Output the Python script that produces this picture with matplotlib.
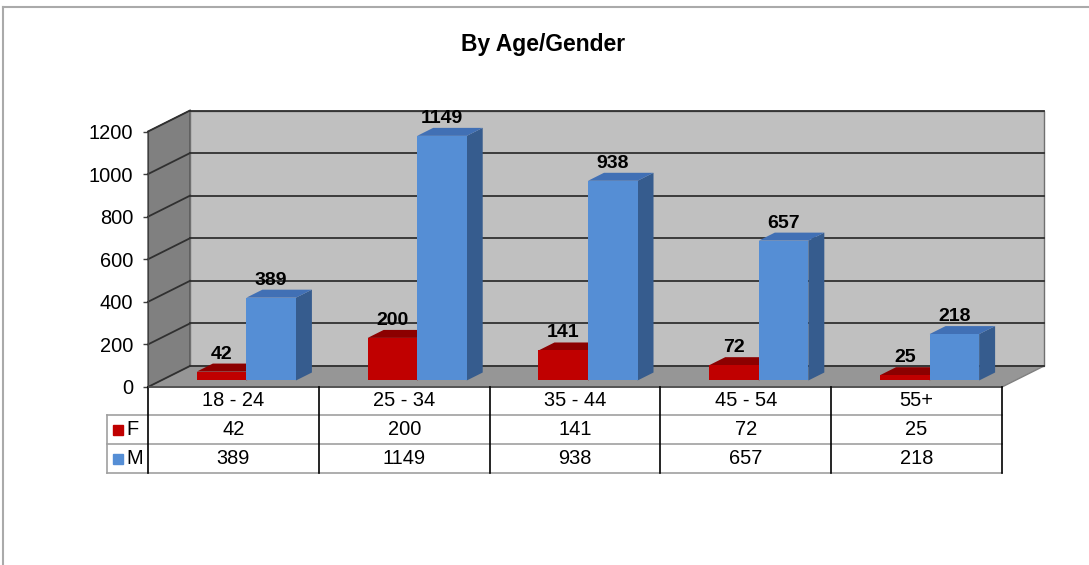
import matplotlib.pyplot as plt
from matplotlib.patches import Polygon
from matplotlib.lines import Line2D

# datos
categorias = ['18 - 24', '25 - 34', '35 - 44', '45 - 54', '55+']
valores_f = [42, 200, 141, 72, 25]
valores_m = [389, 1149, 938, 657, 218]
series = ['F', 'M']
yticks = [0, 200, 400, 600, 800, 1000, 1200]

plt.rcParams['font.family'] = ['Liberation Sans', 'DejaVu Sans']

W, H = 1089, 565
fig = plt.figure(figsize=(W / 100, H / 100), dpi=100)

# plano frontal del grafico en pixeles
X0, X1 = 148, 1002
Y0, Y1 = 387, 131.5
ax = fig.add_axes([X0 / W, 1 - Y0 / H, (X1 - X0) / W, (Y0 - Y1) / H])
n = len(categorias)
ymax = yticks[-1]
ax.set_xlim(0, n)
ax.set_ylim(0, ymax)
PX = (X1 - X0) / n
PY = (Y0 - Y1) / ymax
DX = 42 / PX   # profundidad en x
DY = 21 / PY   # profundidad en y

# paredes y suelo
pared_izq = [(0, 0), (DX, DY), (DX, ymax + DY), (0, ymax)]
pared_fondo = [(DX, DY), (n + DX, DY), (n + DX, ymax + DY), (DX, ymax + DY)]
suelo = [(0, 0), (n, 0), (n + DX, DY), (DX, DY)]
ax.add_patch(Polygon(pared_izq, closed=True, fc='#808080', ec='#505050', lw=1, clip_on=False, zorder=1))
ax.add_patch(Polygon(pared_fondo, closed=True, fc='#C0C0C0', ec='#707070', lw=1, clip_on=False, zorder=1))
ax.add_patch(Polygon(suelo, closed=True, fc='#969696', ec='#808080', lw=1, clip_on=False, zorder=1))

# lineas de cuadricula
for v in yticks:
    ax.plot([DX, n + DX], [v + DY, v + DY], color='#303030', lw=1.3, clip_on=False, zorder=2)
    ax.plot([0, DX], [v, v + DY], color='#303030', lw=1.3, clip_on=False, zorder=2)

# barras 3D
w = 0.29
z0, z1 = 0.31, 0.69
colores = {
    'F': ('#C00000', '#8C0000', '#7A0000'),
    'M': ('#558ED5', '#4170B5', '#365C8E'),
}


def barra(xl, v, col):
    frente, arriba, lado = col
    xr = xl + w
    fx, fy = z0 * DX, z0 * DY
    bx, by = z1 * DX, z1 * DY
    cara = [(xl + fx, fy), (xr + fx, fy), (xr + fx, v + fy), (xl + fx, v + fy)]
    techo = [(xl + fx, v + fy), (xr + fx, v + fy), (xr + bx, v + by), (xl + bx, v + by)]
    costado = [(xr + fx, fy), (xr + bx, by), (xr + bx, v + by), (xr + fx, v + fy)]
    ax.add_patch(Polygon(costado, closed=True, fc=lado, ec='none', zorder=3, clip_on=False))
    ax.add_patch(Polygon(techo, closed=True, fc=arriba, ec='none', zorder=3, clip_on=False))
    ax.add_patch(Polygon(cara, closed=True, fc=frente, ec='none', zorder=3, clip_on=False))
    ax.text(xl + w / 2 + fx, v + fy + 13 / PY, str(v), ha='center', va='baseline',
            fontsize=14, fontweight='bold', color='black', zorder=5, clip_on=False)


for i in range(n):
    barra(i + 0.5 - w, valores_f[i], colores['F'])
    barra(i + 0.5, valores_m[i], colores['M'])

# ejes
for s in ['top', 'right', 'bottom']:
    ax.spines[s].set_visible(False)
ax.spines['left'].set_color('#404040')
ax.spines['left'].set_zorder(4)
ax.set_xticks([])
ax.set_yticks(yticks)
ax.set_yticklabels([str(t) for t in yticks])
ax.tick_params(axis='y', direction='out', length=3.6, width=1, color='#404040',
               pad=7, labelsize=14.4)
ax.patch.set_visible(False)

# tabla de datos
filas_px = [387, 415, 444, 473]
filas = [-(p - Y0) / PY for p in filas_px]
x_leyenda = (107 - X0) / PX
for k in range(1, 4):
    ax.plot([x_leyenda, n], [filas[k], filas[k]], color='#A0A0A0', lw=1.2, clip_on=False, zorder=2)
ax.plot([x_leyenda, x_leyenda], [filas[1], filas[3]], color='#A0A0A0', lw=1.2, clip_on=False, zorder=2)
ax.plot([0, n], [0, 0], color='#505050', lw=1.3, clip_on=False, zorder=4)
for k in range(n + 1):
    ax.plot([k, k], [0, filas[3]], color='black', lw=1.2, clip_on=False, zorder=4)

for i, c in enumerate(categorias):
    yc = (filas[0] + filas[1]) / 2
    ax.text(i + 0.5, yc, c, ha='center', va='center', fontsize=14.4, clip_on=False)
    ax.text(i + 0.5, (filas[1] + filas[2]) / 2, str(valores_f[i]), ha='center', va='center',
            fontsize=14.4, clip_on=False)
    ax.text(i + 0.5, (filas[2] + filas[3]) / 2, str(valores_m[i]), ha='center', va='center',
            fontsize=14.4, clip_on=False)

for k, s in enumerate(series):
    yc = (filas[k + 1] + filas[k + 2]) / 2
    ax.plot([(118 - X0) / PX], [yc], marker='s', markersize=6.5, color=colores[s][0],
            clip_on=False, zorder=5)
    ax.text((126 - X0) / PX, yc, s, ha='left', va='center', fontsize=14.4, clip_on=False)

# titulo y borde
fig.text(543 / W, 1 - 44 / H, 'By Age/Gender', ha='center', va='center',
         fontsize=16.5, fontweight='bold')
fig.add_artist(Line2D([2.5 / W, 2.5 / W], [0, 1 - 6.5 / H], color='#AAAAAA', lw=1.5))
fig.add_artist(Line2D([2.5 / W, 1], [1 - 6.5 / H, 1 - 6.5 / H], color='#AAAAAA', lw=1.5))

fig.savefig('out.png', dpi=100, facecolor='white')
